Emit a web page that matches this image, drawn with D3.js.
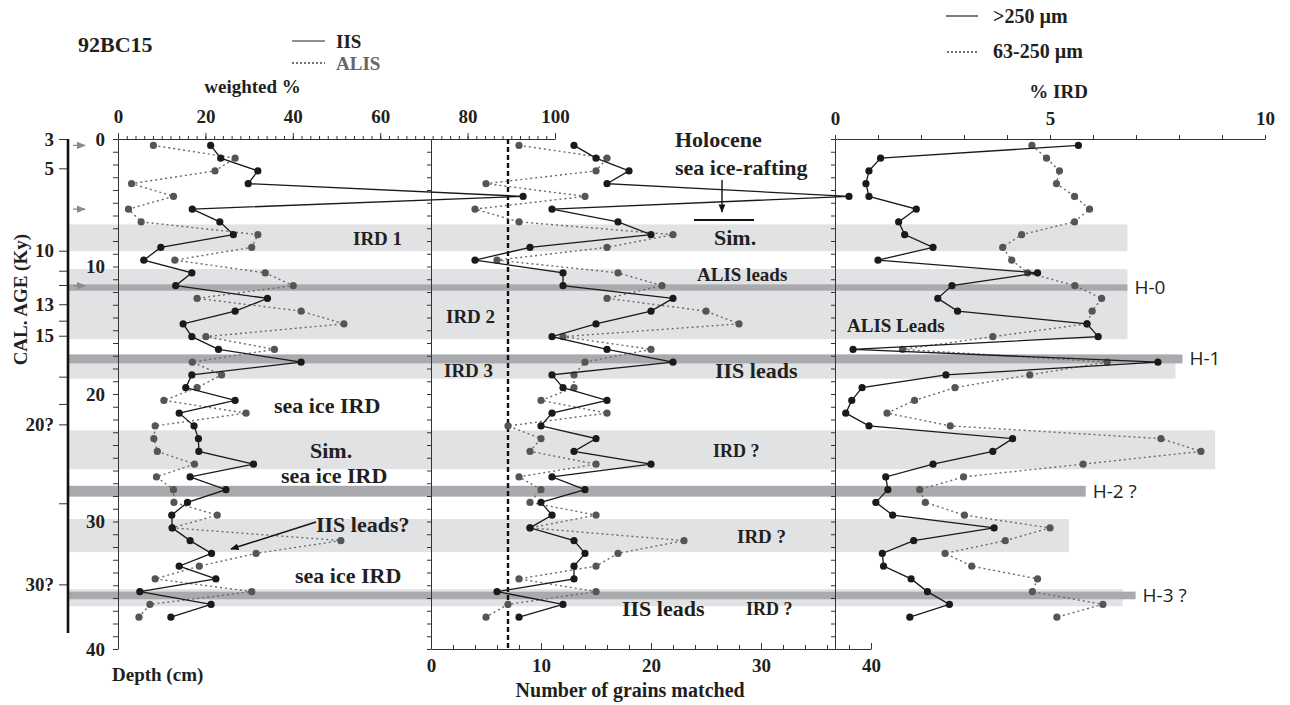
<!DOCTYPE html>
<html>
<head>
<meta charset="utf-8">
<script src="https://cdn.jsdelivr.net/npm/d3@7"></script>
<style>
  body { margin: 0; background: #fff; }
  svg text { font-family: "Liberation Serif", "Times New Roman", serif; font-weight: bold; fill: #231f20; }
  svg text.sans { font-family: "Open Sans", "Noto Sans", sans-serif; font-weight: normal; }
</style>
</head>
<body>
<div id="chart"></div>
<script>
// sample depths (cm)
const depths = [0.5, 1.5, 2.5, 3.5, 4.5, 5.5, 6.5, 7.5, 8.5, 9.5, 10.5, 11.5, 12.5, 13.5, 14.5, 15.5, 16.5, 17.5, 18.5,
    19.5, 20.5, 21.5, 22.5, 23.5, 24.5, 25.5, 26.5, 27.5, 28.5, 29.5, 30.5, 31.5, 32.5, 33.5, 34.5, 35.5, 36.5, 37.5];

// weighted % (left panel)
const iisWeighted = [21.2, 23.5, 32.0, 29.8, 92.7, 17.0, 23.3, 26.4, 9.8, 5.9, 16.9, 13.2, 34.2, 26.8, 14.9, 16.9, 23.0, 41.9, 16.9,
    15.5, 26.8, 14.0, 17.4, 18.4, 18.5, 31.0, 16.5, 24.7, 15.9, 12.3, 12.4, 16.5, 21.4, 14.0, 22.4, 5.0, 21.3, 12.1];
const alisWeighted = [8.1, 26.8, 22.2, 3.1, 12.7, 2.4, 5.3, 32.0, 30.6, 13.0, 33.7, 40.1, 18.1, 41.9, 51.7, 20.1, 35.8, 17.0, 23.7,
    18.1, 10.5, 29.3, 8.5, 8.2, 9.0, 17.5, 8.8, 12.7, 12.8, 22.7, 12.4, 51.0, 31.6, 18.6, 8.5, 30.6, 7.3, 4.8];

// number of grains matched (middle panel)
const iisGrains = [13, 15, 18, 16, 38, 11, 17, 20, 9, 4, 12, 12, 22, 20, 15, 11, 16, 22, 11,
    12, 16, 11, 10, 15, 13, 20, 11, 14, 10, 11, 9, 13, 14, 13, 13, 6, 12, 8];
const alisGrains = [8, 16, 15, 5, 14, 4, 8, 22, 16, 6, 17, 21, 16, 25, 28, 12, 20, 14, 13,
    13, 10, 16, 7, 10, 9, 15, 8, 10, 9, 15, 9, 23, 17, 15, 8, 15, 7, 5];
const grainThreshold = 7;

// % IRD (right panel)
const ird250 = [5.66, 1.06, 0.79, 0.72, 0.79, 1.89, 1.48, 1.62, 2.28, 1.0, 4.71, 2.72, 2.39, 2.85, 5.86, 6.12, 0.42, 7.51, 2.58,
    0.63, 0.39, 0.25, 0.79, 4.13, 3.67, 2.28, 1.18, 1.23, 0.95, 1.34, 3.70, 1.83, 1.10, 1.13, 1.77, 2.15, 2.66, 1.74];
const ird63 = [4.58, 4.92, 5.22, 5.15, 5.57, 5.92, 5.57, 4.34, 3.90, 4.11, 4.48, 5.58, 6.20, 5.98, 5.86, 3.67, 1.57, 6.33, 4.53,
    2.79, 1.85, 1.21, 2.68, 7.58, 8.51, 5.77, 2.99, 1.97, 2.10, 3.01, 5.0, 3.96, 2.56, 3.18, 4.71, 4.59, 6.23, 5.16];

// shaded intervals: depth top/bottom, extent in % IRD
const lightBandTop = [6.7, 10.2, 16.9, 22.85, 29.8, 35.3];
const lightBandBottom = [8.8, 15.7, 18.8, 25.9, 32.4, 36.65];
const lightBandEnd = [6.8, 6.8, 7.92, 8.84, 5.44, 6.69];
const heinrichTop = [11.4, 16.9, 27.2, 35.5];
const heinrichBottom = [11.9, 17.6, 28.05, 36.1];
const heinrichEnd = [6.8, 8.08, 5.83, 6.99];
const heinrichLabels = ["H-0", "H-1", "H-2 ?", "H-3 ?"];

// calendar age axis
const ageTickDepths = [0, 2.3, 8.76, 10.33, 11.45, 12.96, 14.25, 15.43, 18.64, 20.78, 22.38, 28.57, 34.93];
const ageTickLabels = ["3", "5", "10", "", "", "13", "", "15", "", "", "20?", "", "30?"];
const datedDepths = [0.5, 5.5, 11.5];

const weightedTicks = [0, 20, 40, 60, 80, 100];
const grainTicks = [0, 10, 20, 30, 40];
const irdTicks = [0, 5, 10];
const depthTicks = [0, 10, 20, 30, 40];

const width = 1290, height = 705;
const svg = d3.select("#chart").append("svg")
    .attr("width", width)
    .attr("height", height);

const y = d3.scaleLinear().domain([0, 40]).range([139, 649]);
const xW = d3.scaleLinear().domain([0, 100]).range([118, 555]);
const xG = d3.scaleLinear().domain([0, 40]).range([431, 871]);
const xI = d3.scaleLinear().domain([0, 10]).range([835, 1265]);
const ageX = 68;

// bands
const bands = svg.append("g");
bands.selectAll("rect.light")
    .data(lightBandTop)
    .join("rect")
    .attr("class", "light")
    .attr("x", ageX)
    .attr("y", d => y(d))
    .attr("width", (d, i) => xI(lightBandEnd[i]) - ageX)
    .attr("height", (d, i) => y(lightBandBottom[i]) - y(d))
    .attr("fill", "#e1e2e4");
bands.selectAll("rect.dark")
    .data(heinrichTop)
    .join("rect")
    .attr("class", "dark")
    .attr("x", ageX)
    .attr("y", d => y(d))
    .attr("width", (d, i) => xI(heinrichEnd[i]) - ageX)
    .attr("height", (d, i) => y(heinrichBottom[i]) - y(d))
    .attr("fill", "#a9aaad");
bands.selectAll("text")
    .data(heinrichTop)
    .join("text")
    .attr("class", "sans")
    .attr("x", (d, i) => xI(heinrichEnd[i]) + 7)
    .attr("y", (d, i) => (y(d) + y(heinrichBottom[i])) / 2 + 6.5)
    .style("font-size", "19px")
    .text((d, i) => heinrichLabels[i]);

function styleAxis(g, size) {
    g.selectAll("text").attr("fill", "#231f20").style("font-size", size + "px")
        .style("font-family", "Liberation Serif, serif").style("font-weight", "bold");
    g.selectAll("line").attr("stroke", "#333");
    g.select(".domain").attr("stroke", "#333");
}

// depth axes (left, divider, right)
const depthAxis = svg.append("g")
    .attr("transform", `translate(${xW(0)},0)`)
    .call(d3.axisLeft(y).tickValues(d3.range(0, 41)).tickSize(5).tickPadding(8)
        .tickSizeOuter(0)
        .tickFormat(d => depthTicks.includes(d) ? d : ""));
styleAxis(depthAxis, 19);

[xG(0), xI(0)].forEach(px => {
    const g = svg.append("g")
        .attr("transform", `translate(${px},0)`)
        .call(d3.axisLeft(y).tickValues(d3.range(0, 41)).tickSize(4).tickSizeOuter(0).tickFormat(""));
    styleAxis(g, 19);
});

// age axis
const ageAxis = svg.append("g")
    .attr("transform", `translate(${ageX},0)`)
    .call(d3.axisLeft(y).tickValues(ageTickDepths).tickSize(9).tickPadding(5)
        .tickFormat((d, i) => ageTickLabels[i]));
ageAxis.select(".domain").remove();
styleAxis(ageAxis, 19);
svg.append("line")
    .attr("x1", ageX).attr("x2", ageX)
    .attr("y1", y(0)).attr("y2", y(38.75))
    .attr("stroke", "#111")
    .attr("stroke-width", 2.6);

svg.append("defs").html(`
  <marker id="greyHead" viewBox="0 0 10 10" refX="9" refY="5" markerWidth="7" markerHeight="7" orient="auto">
    <path d="M0,1 L10,5 L0,9 Z" fill="#8a8a8a"></path></marker>
  <marker id="blackHead" viewBox="0 0 10 10" refX="9" refY="5" markerWidth="6" markerHeight="6" orient="auto">
    <path d="M0,1 L10,5 L0,9 Z" fill="#111"></path></marker>`);

svg.append("g").selectAll("line")
    .data(datedDepths)
    .join("line")
    .attr("x1", ageX + 5).attr("x2", ageX + 17)
    .attr("y1", d => y(d)).attr("y2", d => y(d))
    .attr("stroke", "#8a8a8a")
    .attr("stroke-width", 1.3)
    .attr("marker-end", "url(#greyHead)");

svg.append("text")
    .attr("transform", `translate(27,${y(12.6)}) rotate(-90)`)
    .attr("text-anchor", "middle")
    .style("font-size", "19px")
    .text("CAL. AGE (Ky)");

// top axes
const wMinor = svg.append("g")
    .attr("transform", `translate(0,${y(0)})`)
    .call(d3.axisTop(xW).tickValues(d3.range(0, 101, 2)).tickSize(3).tickSizeOuter(0).tickFormat(""));
styleAxis(wMinor, 19);
const wMajor = svg.append("g")
    .attr("transform", `translate(0,${y(0)})`)
    .call(d3.axisTop(xW).tickValues(weightedTicks).tickSize(6).tickPadding(10).tickSizeOuter(0));
wMajor.select(".domain").remove();
styleAxis(wMajor, 19);

const iMinor = svg.append("g")
    .attr("transform", `translate(0,${y(0)})`)
    .call(d3.axisTop(xI).tickValues(d3.range(0, 11)).tickSize(4).tickSizeOuter(0).tickFormat(""));
styleAxis(iMinor, 19);
const iMajor = svg.append("g")
    .attr("transform", `translate(0,${y(0)})`)
    .call(d3.axisTop(xI).tickValues(irdTicks).tickSize(4).tickPadding(10).tickSizeOuter(0));
iMajor.select(".domain").remove();
styleAxis(iMajor, 19);

// bottom axis
const gMinor = svg.append("g")
    .attr("transform", `translate(0,${y(40)})`)
    .call(d3.axisTop(xG).tickValues(d3.range(0, 41, 2)).tickSize(4).tickSizeOuter(0).tickFormat(""));
styleAxis(gMinor, 19);
const gMajor = svg.append("g")
    .attr("transform", `translate(0,${y(40)})`)
    .call(d3.axisBottom(xG).tickValues(grainTicks).tickSize(0).tickPadding(10));
gMajor.select(".domain").remove();
gMajor.selectAll(".tick").append("line").attr("y2", -6).attr("stroke", "#333");
styleAxis(gMajor, 19);

// threshold line
svg.append("line")
    .attr("x1", xG(grainThreshold)).attr("x2", xG(grainThreshold))
    .attr("y1", y(0)).attr("y2", y(40))
    .attr("stroke", "#111")
    .attr("stroke-width", 2.4)
    .attr("stroke-dasharray", "5,3");

// series
function drawSeries(values, xScale, solid) {
    const pts = depths.map((d, i) => [xScale(values[i]), y(d)]);
    svg.append("path")
        .datum(pts)
        .attr("fill", "none")
        .attr("stroke", solid ? "#1a1a1a" : "#6a6a6a")
        .attr("stroke-width", solid ? 1.3 : 1.4)
        .attr("stroke-dasharray", solid ? null : "2,3")
        .attr("d", d3.line());
    svg.append("g").selectAll("circle")
        .data(pts)
        .join("circle")
        .attr("cx", d => d[0])
        .attr("cy", d => d[1])
        .attr("r", 3.6)
        .attr("fill", solid ? "#1a1a1a" : "#555");
}
drawSeries(alisWeighted, xW, false);
drawSeries(iisWeighted, xW, true);
drawSeries(alisGrains, xG, false);
drawSeries(iisGrains, xG, true);
drawSeries(ird63, xI, false);
drawSeries(ird250, xI, true);

// titles and legends
function label(x, yy, txt, size, color) {
    return svg.append("text").attr("x", x).attr("y", yy)
        .style("font-size", size + "px")
        .style("fill", color || "#231f20")
        .text(txt);
}
label(78, 52, "92BC15", 22);
svg.append("line").attr("x1", 292).attr("x2", 325).attr("y1", 41).attr("y2", 41).attr("stroke", "#222").attr("stroke-width", 1.2);
label(336, 48, "IIS", 19);
svg.append("line").attr("x1", 292).attr("x2", 325).attr("y1", 63).attr("y2", 63).attr("stroke", "#444").attr("stroke-width", 1.4).attr("stroke-dasharray", "2,2");
label(336, 70, "ALIS", 19, "#666");
label(xW(30.8), 93, "weighted %", 19).attr("text-anchor", "middle");

svg.append("line").attr("x1", 946).attr("x2", 978).attr("y1", 16).attr("y2", 16).attr("stroke", "#222").attr("stroke-width", 1.2);
label(993, 23, ">250 µm", 20);
svg.append("line").attr("x1", 947).attr("x2", 979).attr("y1", 52).attr("y2", 52).attr("stroke", "#444").attr("stroke-width", 1.4).attr("stroke-dasharray", "2,2");
label(993, 58, "63-250 µm", 20);
label(xI(5.2), 98, "% IRD", 19).attr("text-anchor", "middle");

label(112, 681, "Depth (cm)", 19);
label(xG(18.1), 697, "Number of grains matched", 20).attr("text-anchor", "middle");

// annotations
label(675, 147, "Holocene", 22);
label(675, 175, "sea ice-rafting", 22);
svg.append("line").attr("x1", 722).attr("x2", 722).attr("y1", 180).attr("y2", 212)
    .attr("stroke", "#111").attr("stroke-width", 1.4).attr("marker-end", "url(#blackHead)");
svg.append("line").attr("x1", 694).attr("x2", 754).attr("y1", 220).attr("y2", 220)
    .attr("stroke", "#111").attr("stroke-width", 2);
label(714, 245, "Sim.", 22);
label(697, 281, "ALIS leads", 19);
label(446, 323, "IRD 2", 19);
label(444, 377, "IRD 3", 19);
label(715, 378, "IIS leads", 22);
label(353, 245, "IRD 1", 19);
label(274, 413, "sea ice IRD", 22);
label(310, 458, "Sim.", 22);
label(281, 483, "sea ice IRD", 22);
label(316, 532, "IIS leads?", 22);
svg.append("line").attr("x1", 316).attr("x2", 231).attr("y1", 522).attr("y2", 549)
    .attr("stroke", "#111").attr("stroke-width", 1.4).attr("marker-end", "url(#blackHead)");
label(295, 583, "sea ice IRD", 22);
label(713, 457, "IRD ?", 18);
label(737, 543, "IRD ?", 19);
label(622, 616, "IIS leads", 22);
label(746, 615, "IRD ?", 18);
label(847, 332, "ALIS Leads", 19);
</script>
</body>
</html>
